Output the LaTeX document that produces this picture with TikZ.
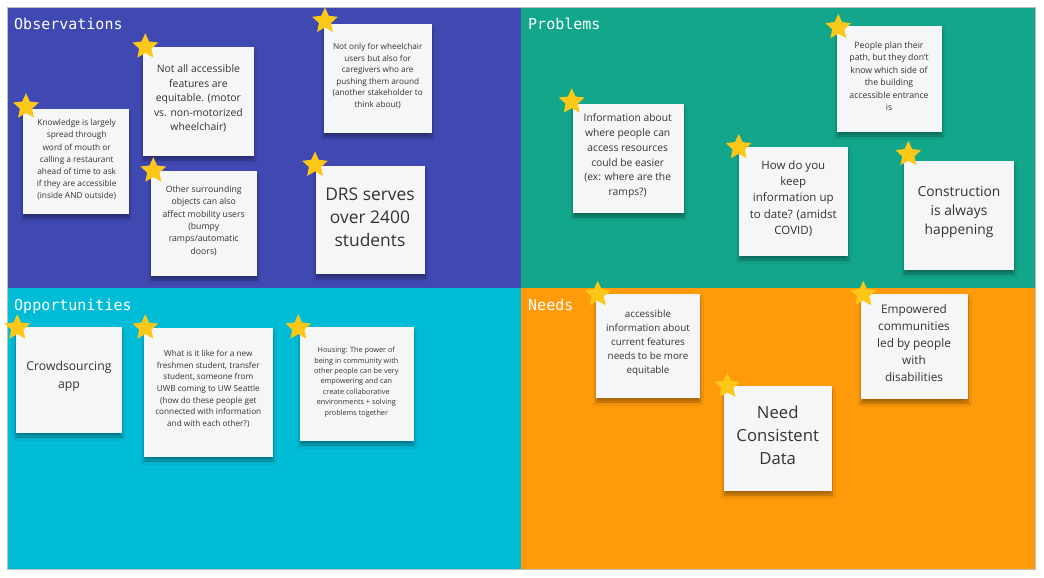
\documentclass[tikz,border=0pt]{standalone}
\usepackage{fontspec}
\setmainfont{Open Sans}
\newfontfamily\boardfont{DejaVu Sans Mono}
\usetikzlibrary{shapes.geometric,shadows.blur}
\definecolor{obsblue}{HTML}{4048B2}
\definecolor{probgreen}{HTML}{12A68A}
\definecolor{oppcyan}{HTML}{00BCD6}
\definecolor{needorange}{HTML}{FF9A0B}
\definecolor{notebg}{HTML}{F5F6F8}
\definecolor{notetext}{HTML}{333333}
\definecolor{staryellow}{HTML}{FCC716}
\definecolor{boardframe}{HTML}{BDBDBD}
\begin{document}
\begin{tikzpicture}[x=1pt,y=-1pt,
  title/.style={anchor=base west,inner sep=0,text=white,font=\boardfont\fontsize{15}{15}\selectfont},
  sticky/.style={fill=notebg,inner sep=0,blur shadow={shadow xshift=0pt,shadow yshift=-4pt,shadow opacity=35,shadow blur steps=8,shadow blur radius=3pt}},
  words/.style={align=center,inner sep=0,text=notetext},
  pin/.style={star,star points=5,star point ratio=2.1,fill=staryellow,inner sep=0,minimum size=27}]
  \fill[white] (0,0) rectangle (1044,578);
  \useasboundingbox (0,0) rectangle (1044,578);
  % the four boards
  \fill[obsblue] (7,7) rectangle (521,288);
  \fill[probgreen] (521,7) rectangle (1035,288);
  \fill[oppcyan] (7,288) rectangle (521,569);
  \fill[needorange] (521,288) rectangle (1035,569);
  \draw[boardframe,line width=0.8] (7,7) rectangle (1035,569);
  \node[title] (obsTitle) at (14,30) {Observations};
  \node[title] (probTitle) at (528,30) {Problems};
  \node[title] (oppTitle) at (14,310) {Opportunities};
  \node[title] (needTitle) at (528,310) {Needs};
  % observations
  \node[sticky,minimum width=106,minimum height=105] (obsKnow) at (76,161.5) {};
  \node[words,font=\fontsize{8.3}{12.1}\selectfont] (obsKnowText) at (76.7,159.7) {Knowledge is largely\\spread through\\word of mouth or\\calling a restaurant\\ahead of time to ask\\if they are accessible\\(inside AND outside)};
  \node[pin] (obsKnowStar) at (26,106.7) {};
  \node[sticky,minimum width=111,minimum height=109] (obsEquit) at (198.5,101.5) {};
  \node[words,font=\fontsize{10.4}{14.6}\selectfont] (obsEquitText) at (198.4,98.5) {Not all accessible\\features are\\equitable. (motor\\vs. non-motorized\\wheelchair)};
  \node[pin] (obsEquitStar) at (145.3,46.7) {};
  \node[sticky,minimum width=108,minimum height=109] (obsCare) at (378,78.5) {};
  \node[words,font=\fontsize{8.2}{11.6}\selectfont] (obsCareText) at (377.7,76) {Not only for wheelchair\\users but also for\\caregivers who are\\pushing them around\\(another stakeholder to\\think about)};
  \node[pin] (obsCareStar) at (325,21) {};
  \node[sticky,minimum width=106,minimum height=105] (obsSurr) at (204,223.5) {};
  \node[words,font=\fontsize{8.7}{12.3}\selectfont] (obsSurrText) at (203.7,220.7) {Other surrounding\\objects can also\\affect mobility users\\(bumpy\\ramps/automatic\\doors)};
  \node[pin] (obsSurrStar) at (153.3,170.7) {};
  \node[sticky,minimum width=109,minimum height=108] (obsDrs) at (370.5,220) {};
  \node[words,font=\fontsize{17.4}{23.3}\selectfont] (obsDrsText) at (370,217.3) {DRS serves\\over 2400\\students};
  \node[pin] (obsDrsStar) at (315,165) {};
  % problems
  \node[sticky,minimum width=111,minimum height=109] (probInfo) at (628.5,158.5) {};
  \node[words,font=\fontsize{10.3}{14.7}\selectfont] (probInfoText) at (627.7,156) {Information about\\where people can\\access resources\\could be easier\\(ex: where are the\\ramps?)};
  \node[pin] (probInfoStar) at (571.7,101.7) {};
  \node[sticky,minimum width=105,minimum height=106] (probPath) at (889.5,79) {};
  \node[words,font=\fontsize{8.7}{12.45}\selectfont] (probPathText) at (889,76.2) {People plan their\\path, but they don’t\\know which side of\\the building\\accessible entrance\\is};
  \node[pin] (probPathStar) at (838.3,27.3) {};
  \node[sticky,minimum width=109,minimum height=109] (probUpdate) at (793.5,201.5) {};
  \node[words,font=\fontsize{11.5}{16.3}\selectfont] (probUpdateText) at (793.3,198.5) {How do you\\keep\\information up\\to date? (amidst\\COVID)};
  \node[pin] (probUpdateStar) at (738.7,147.3) {};
  \node[sticky,minimum width=110,minimum height=109] (probBuild) at (959,215.5) {};
  \node[words,font=\fontsize{13.8}{19.3}\selectfont] (probBuildText) at (959,212) {Construction\\is always\\happening};
  \node[pin] (probBuildStar) at (908.3,154.3) {};
  % opportunities
  \node[sticky,minimum width=106,minimum height=106] (oppCrowd) at (69,380) {};
  \node[words,font=\fontsize{12.2}{17.3}\selectfont] (oppCrowdText) at (69,376.3) {Crowdsourcing\\app};
  \node[pin] (oppCrowdStar) at (17.3,327.7) {};
  \node[sticky,minimum width=129,minimum height=129] (oppNew) at (208.5,392.5) {};
  \node[words,font=\fontsize{8.2}{11.67}\selectfont] (oppNewText) at (208.3,389) {What is it like for a new\\freshmen student, transfer\\student, someone from\\UWB coming to UW Seattle\\(how do these people get\\connected with information\\and with each other?)};
  \node[pin] (oppNewStar) at (145.3,327.7) {};
  \node[sticky,minimum width=114,minimum height=114] (oppHouse) at (357,384) {};
  \node[words,font=\fontsize{7.3}{10.4}\selectfont] (oppHouseText) at (356.3,382) {Housing: The power of\\being in community with\\other people can be very\\empowering and can\\create collaborative\\environments + solving\\problems together};
  \node[pin] (oppHouseStar) at (298.3,327.7) {};
  % needs
  \node[sticky,minimum width=104,minimum height=104] (needInfo) at (648,346) {};
  \node[words,font=\fontsize{9.8}{14}\selectfont] (needInfoText) at (648,343.3) {accessible\\information about\\current features\\needs to be more\\equitable};
  \node[pin] (needInfoStar) at (597.7,294.3) {};
  \node[sticky,minimum width=107,minimum height=105] (needComm) at (914.5,346.5) {};
  \node[words,font=\fontsize{11.8}{16.85}\selectfont] (needCommText) at (914,343) {Empowered\\communities\\led by people\\with\\disabilities};
  \node[pin] (needCommStar) at (863.3,294.3) {};
  \node[sticky,minimum width=108,minimum height=105] (needData) at (778,438.5) {};
  \node[words,font=\fontsize{16.7}{23}\selectfont] (needDataText) at (777.7,435.3) {Need\\Consistent\\Data};
  \node[pin] (needDataStar) at (727.3,386) {};
\end{tikzpicture}
\end{document}
